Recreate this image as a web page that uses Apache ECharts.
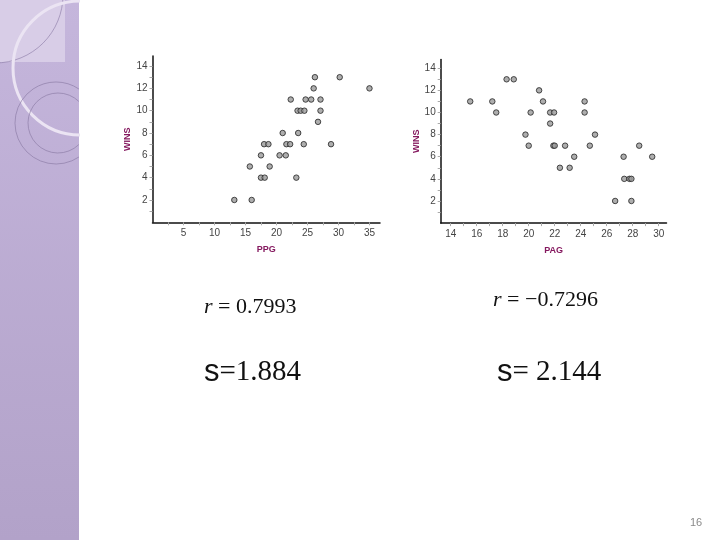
<!DOCTYPE html>
<html>
<head>
<meta charset="utf-8">
<script src="https://cdn.jsdelivr.net/npm/echarts@6/dist/echarts.min.js"></script>
<style>
  html, body { margin: 0; padding: 0; background: #fff; }
  #chart { width: 720px; height: 540px; }
</style>
</head>
<body>
<div id="chart"></div>
<script>
// left plot: points per game vs wins
const ppgData = [
  [13.2, 2], [16.0, 2],
  [17.5, 4], [18.1, 4], [23.2, 4],
  [15.7, 5], [18.9, 5],
  [17.5, 6], [20.5, 6], [21.5, 6],
  [18.0, 7], [18.7, 7], [21.6, 7], [22.2, 7], [24.4, 7], [28.8, 7],
  [21.0, 8], [23.5, 8],
  [26.7, 9],
  [23.4, 10], [23.9, 10], [24.5, 10], [27.1, 10],
  [22.3, 11], [24.7, 11], [25.6, 11], [27.1, 11],
  [26.0, 12], [35.0, 12],
  [26.2, 13], [30.2, 13]
]
// right plot: points allowed per game vs wins
const pagData = [
  [15.5, 11], [17.2, 11], [17.5, 10],
  [18.3, 13], [18.85, 13],
  [19.75, 8], [20.0, 7], [20.15, 10], [20.8, 12], [21.1, 11],
  [21.65, 10], [21.95, 10], [21.65, 9],
  [21.9, 7], [22.0, 7], [22.8, 7],
  [22.4, 5], [23.15, 5], [23.5, 6],
  [24.3, 11], [24.3, 10], [24.7, 7], [25.1, 8],
  [26.65, 2], [27.3, 6], [27.35, 4], [27.75, 4], [27.9, 4], [27.9, 2],
  [28.5, 7], [29.5, 6]
]

const ppgLabels = [5, 10, 15, 20, 25, 30, 35]
const ppgTicks = [2.5, 5, 7.5, 10, 12.5, 15, 17.5, 20, 22.5, 25, 27.5, 30, 32.5, 35]
const pagLabels = [14, 16, 18, 20, 22, 24, 26, 28, 30]
const pagTicks = [14, 15, 16, 17, 18, 19, 20, 21, 22, 23, 24, 25, 26, 27, 28, 29, 30]
const winsLabels = [2, 4, 6, 8, 10, 12, 14]
const winsTicks = [1, 2, 3, 4, 5, 6, 7, 8, 9, 10, 11, 12, 13, 14]

const rLeft = '0.7993'
const rRight = '\u22120.7296'
const sLeft = '1.884'
const sRight = '2.144'

const nameColor = '#85195f'
const serif = '"Liberation Serif", "DejaVu Serif", serif'
const sans = '"Liberation Sans", Arial, sans-serif'

function xAxisOf(gridIndex, name, min, max, labels, ticks) {
  return {
    type: 'value',
    gridIndex,
    min,
    max,
    name,
    nameLocation: 'middle',
    nameGap: 23,
    nameTextStyle: { color: nameColor, fontWeight: 'bold', fontSize: 9, fontFamily: sans },
    splitLine: { show: false },
    axisLine: { lineStyle: { color: '#111', width: 1.5 } },
    axisTick: { customValues: ticks, length: 3, lineStyle: { color: '#aaa' } },
    axisLabel: { customValues: labels, color: '#444', fontSize: 10, fontFamily: sans, margin: 6 }
  }
}

function yAxisOf(gridIndex, max) {
  return {
    type: 'value',
    gridIndex,
    min: 0,
    max,
    name: 'WINS',
    nameLocation: 'middle',
    nameGap: 20,
    nameRotate: 90,
    nameTextStyle: { color: nameColor, fontWeight: 'bold', fontSize: 9, fontFamily: sans },
    splitLine: { show: false },
    axisLine: { show: true, lineStyle: { color: '#111', width: 1.5 } },
    axisTick: { customValues: winsTicks, length: 3, lineStyle: { color: '#aaa' } },
    axisLabel: { customValues: winsLabels, color: '#444', fontSize: 10, fontFamily: sans, margin: 5 }
  }
}

const markStyle = { color: '#9a9a9a', borderColor: '#222', borderWidth: 1 }

const chart = echarts.init(document.getElementById('chart'))
chart.setOption({
  animation: false,
  backgroundColor: '#fff',
  grid: [
    { left: 152.5, top: 56, width: 227.5, height: 166.3 },
    { left: 440.7, top: 59.4, width: 225.8, height: 163.7 }
  ],
  xAxis: [
    xAxisOf(0, 'PPG', 0, 36.7, ppgLabels, ppgTicks),
    xAxisOf(1, 'PAG', 13.23, 30.6, pagLabels, pagTicks)
  ],
  yAxis: [
    yAxisOf(0, 14.9),
    yAxisOf(1, 14.8)
  ],
  series: [
    {
      type: 'scatter',
      xAxisIndex: 0,
      yAxisIndex: 0,
      data: ppgData,
      symbolSize: 5.5,
      itemStyle: markStyle
    },
    {
      type: 'scatter',
      xAxisIndex: 1,
      yAxisIndex: 1,
      data: pagData,
      symbolSize: 5.5,
      itemStyle: markStyle
    }
  ],
  graphic: [
    // purple side band
    {
      type: 'rect',
      z: -10,
      shape: { x: 0, y: 0, width: 79, height: 540 },
      style: {
        fill: new echarts.graphic.LinearGradient(0, 0, 0, 1, [
          { offset: 0, color: '#c5b6dc' },
          { offset: 1, color: '#b2a2c9' }
        ])
      }
    },
    {
      type: 'rect',
      z: -9,
      shape: { x: 0, y: 0, width: 65, height: 62 },
      style: { fill: '#d8cde7' }
    },
    {
      type: 'arc',
      z: -8,
      shape: { cx: -5, cy: -5, r: 68, startAngle: 0, endAngle: Math.PI / 2 },
      style: { stroke: '#9484ad', lineWidth: 0.7, fill: null }
    },
    {
      type: 'arc',
      z: -8,
      shape: { cx: 80, cy: 68, r: 67, startAngle: Math.PI / 2, endAngle: Math.PI * 1.5, clockwise: true },
      style: { stroke: '#ebe4f3', lineWidth: 3, fill: null }
    },
    {
      type: 'arc',
      z: -8,
      shape: { cx: 56, cy: 123, r: 41, startAngle: 56 * Math.PI / 180, endAngle: 304 * Math.PI / 180, clockwise: true },
      style: { stroke: '#8e7ea8', lineWidth: 0.7, fill: null }
    },
    {
      type: 'arc',
      z: -8,
      shape: { cx: 58, cy: 123, r: 30, startAngle: 46 * Math.PI / 180, endAngle: 314 * Math.PI / 180, clockwise: true },
      style: { stroke: '#8e7ea8', lineWidth: 0.7, fill: null }
    },
    // statistics under the plots
    {
      type: 'text',
      left: 204,
      top: 296,
      style: {
        text: '{i|r} = ' + rLeft,
        fontFamily: serif,
        fontSize: 22,
        fill: '#111',
        rich: { i: { fontStyle: 'italic', fontFamily: serif, fontSize: 22 } }
      }
    },
    {
      type: 'text',
      left: 493,
      top: 289,
      style: {
        text: '{i|r} = ' + rRight,
        fontFamily: serif,
        fontSize: 22,
        fill: '#111',
        rich: { i: { fontStyle: 'italic', fontFamily: serif, fontSize: 22 } }
      }
    },
    {
      type: 'text',
      left: 204,
      top: 357,
      style: {
        text: '{s|s}=' + sLeft,
        fontFamily: serif,
        fontSize: 29,
        fill: '#111',
        rich: { s: { fontFamily: sans, fontSize: 31 } }
      }
    },
    {
      type: 'text',
      left: 497,
      top: 357,
      style: {
        text: '{s|s}= ' + sRight,
        fontFamily: serif,
        fontSize: 29,
        fill: '#111',
        rich: { s: { fontFamily: sans, fontSize: 31 } }
      }
    },
    {
      type: 'text',
      left: 690,
      top: 517,
      style: { text: '16', fontFamily: sans, fontSize: 11, fill: '#8a8a8a' }
    }
  ]
})
</script>
</body>
</html>
